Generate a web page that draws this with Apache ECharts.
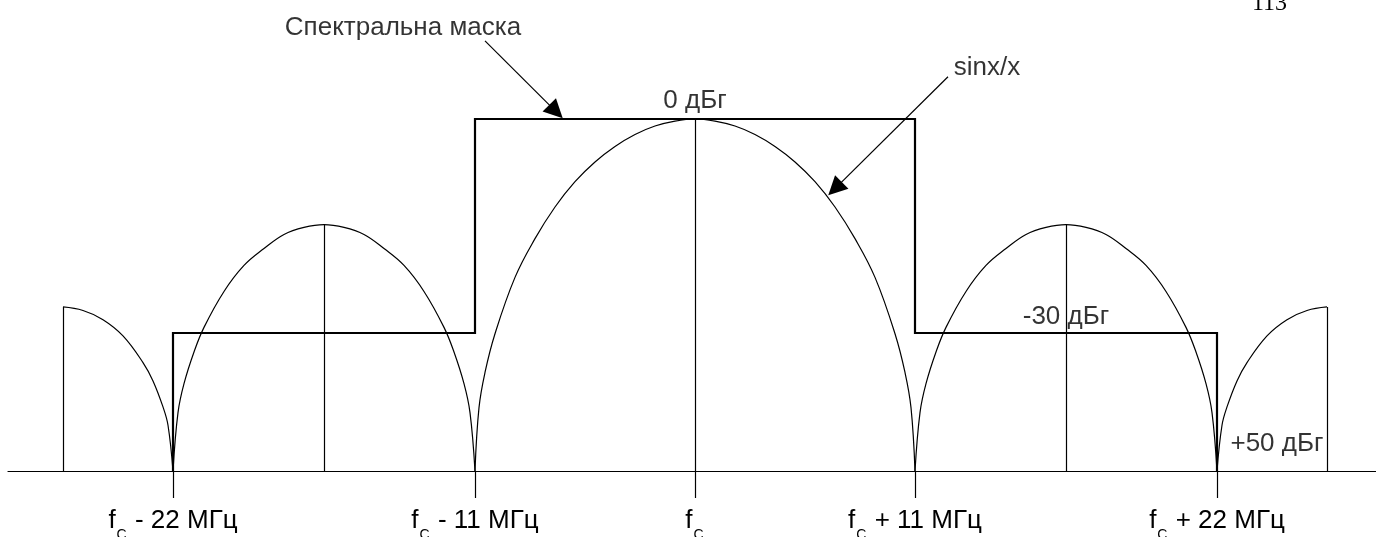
<!DOCTYPE html>
<html>
<head>
<meta charset="utf-8">
<script src="https://cdn.jsdelivr.net/npm/echarts@6/dist/echarts.min.js"></script>
<style>
  html, body { margin: 0; padding: 0; background: #fff; }
  #spectrum { width: 1376px; height: 537px; }
</style>
</head>
<body>
<div id="spectrum"></div>
<script>
// частота: умовні одиниці (f_C = 0), рівень: дБ відносно 0 дБг
var tickPos = [-26.1, -11, 0, 11, 26.1]
var tickText = [' - 22 МГц', ' - 11 МГц', '', ' + 11 МГц', ' + 22 МГц']

// спектральна маска
var maskX = [-26.1, -26.1, -11, -11, 11, 11, 26.1, 26.1]
var maskY = [-50, -30.4, -30.4, 0, 0, -30.4, -30.4, -50]

// головна пелюстка sinx/x
var mainX = [-11, -10.8, -10.5, -10, -9, -8, -7, -6, -5, -4, -3, -2, -1, 0, 1, 2, 3, 4, 5, 6, 7, 8, 9, 10, 10.5, 10.8, 11]
var mainY = [-50, -41, -36, -30.5, -22.5, -17, -12.5, -8.9, -6.1, -3.9, -2.2, -1.0, -0.3, 0, -0.3, -1.0, -2.2, -3.9, -6.1, -8.9, -12.5, -17, -22.5, -30.5, -36, -41, -50]

// бічні пелюстки
var sideLeftX = [-26.1, -25.85, -25.55, -25.05, -24.55, -23.55, -22.55, -21.55, -20.55, -19.55, -18.55, -17.55, -16.55, -15.55, -14.55, -13.55, -12.55, -12.05, -11.55, -11.25, -11]
var sideRightX = [11, 11.25, 11.55, 12.05, 12.55, 13.55, 14.55, 15.55, 16.55, 17.55, 18.55, 19.55, 20.55, 21.55, 22.55, 23.55, 24.55, 25.05, 25.55, 25.85, 26.1]
var sideY = [-50, -41.7, -37.6, -33.1, -29.6, -24.5, -20.8, -18.4, -16.4, -15.4, -15.0, -15.4, -16.4, -18.4, -20.8, -24.5, -29.6, -33.1, -37.6, -41.7, -50]

// крайні (обрізані) пелюстки
var edgeLeftX = [-31.6, -30.6, -29.6, -28.6, -27.6, -27.1, -26.6, -26.35, -26.1]
var edgeLeftY = [-26.7, -27.2, -28.5, -30.8, -34.6, -37.2, -40.9, -43.5, -50]
var edgeRightX = [26.1, 26.35, 26.6, 27.1, 27.6, 28.6, 29.6, 30.6, 31.6]
var edgeRightY = [-50, -43.5, -40.9, -37.2, -34.6, -30.8, -28.5, -27.2, -26.7]

// вертикальні лінії у вершинах пелюсток
var stemX = [-31.6, -18.55, 0, 18.55, 31.6]
var stemTop = [-26.7, -15.0, 0, -15.0, -26.7]

// підписи
var noteText = ['Спектральна маска', '0 дБг', 'sinx/x', '-30 дБг', '+50 дБг']
var noteX = [-14.6, 0, 14.6, 18.55, 29.1]
var noteY = [13.0, 2.6, 7.2, -28.1, -46.1]

// стрілки [початок, вістря]
var arrowMask = [[-10.5, 11.1], [-6.95, 1.05]]
var arrowSinc = [[12.65, 6.0], [7.0, -9.9]]

var FONT = 'Liberation Sans, Arial, sans-serif'

function zip(xs, ys) {
  return xs.map(function(x, i) { return [x, ys[i]] })
}

function lobe(xs, ys) {
  return {
    type: 'line',
    data: zip(xs, ys),
    smooth: 0.4,
    showSymbol: false,
    symbol: 'none',
    lineStyle: { color: '#000', width: 1.2 },
    silent: true
  }
}

var chart = echarts.init(document.getElementById('spectrum'))

var option = {
  animation: false,
  backgroundColor: '#fff',
  grid: { left: 8, right: 0, top: 0, bottom: 66, containLabel: false, outerBoundsMode: 'none' },
  xAxis: {
    type: 'value',
    min: -34.35,
    max: 34.05,
    splitLine: { show: false },
    axisLine: { show: true, onZero: false, lineStyle: { color: '#000', width: 1.2 } },
    axisTick: {
      show: true,
      customValues: tickPos,
      length: 27,
      lineStyle: { color: '#000', width: 1.2 }
    },
    axisLabel: {
      show: true,
      customValues: tickPos,
      margin: 44,
      hideOverlap: false,
      formatter: function(v) {
        var i = 0
        tickPos.forEach(function(p, k) { if (Math.abs(p - v) < 0.01) i = k })
        return '{f|f}{c|C}' + (tickText[i] ? '{t|' + tickText[i] + '}' : '')
      },
      rich: {
        f: { fontSize: 26, lineHeight: 26, padding: [0, 0, 14, 0], fontFamily: FONT, color: '#000' },
        t: { fontSize: 26, lineHeight: 26, padding: [0, 0, 14, 0], fontFamily: FONT, color: '#000' },
        c: { fontSize: 14, lineHeight: 14, padding: [14, 1, 0, 1], fontFamily: FONT, color: '#000' }
      }
    }
  },
  yAxis: {
    type: 'value',
    min: -50,
    max: 16.9,
    show: false
  },
  series: [
    lobe(mainX, mainY),
    lobe(sideLeftX, sideY),
    lobe(sideRightX, sideY),
    lobe(edgeLeftX, edgeLeftY),
    lobe(edgeRightX, edgeRightY),
    {
      type: 'lines',
      coordinateSystem: 'cartesian2d',
      silent: true,
      lineStyle: { color: '#000', width: 1.2, opacity: 1 },
      data: stemX.map(function(x, i) {
        return { coords: [[x, -50], [x, stemTop[i]]] }
      })
    },
    {
      type: 'line',
      data: zip(maskX, maskY),
      showSymbol: false,
      symbol: 'none',
      lineStyle: { color: '#000', width: 2.2, join: 'miter' },
      silent: true,
      z: 3
    },
    {
      type: 'lines',
      coordinateSystem: 'cartesian2d',
      silent: true,
      symbol: ['none', 'triangle'],
      symbolSize: [12, 19],
      lineStyle: { color: '#000', width: 1.2, opacity: 1 },
      itemStyle: { color: '#000' },
      data: [{ coords: arrowMask }, { coords: arrowSinc }],
      z: 4
    },
    {
      type: 'scatter',
      symbolSize: 1,
      itemStyle: { color: 'rgba(0,0,0,0)' },
      silent: true,
      label: {
        show: true,
        position: 'inside',
        formatter: '{b}',
        fontFamily: FONT,
        fontSize: 26,
        color: '#000',
        textBorderWidth: 0
      },
      data: noteText.map(function(t, i) {
        return { name: t, value: [noteX[i], noteY[i]] }
      }),
      z: 5
    }
  ],
  graphic: [
    {
      type: 'text',
      left: 1252,
      top: -8,
      style: { text: '113', font: '24px "Liberation Serif", serif', fill: '#000' }
    }
  ]
}

chart.setOption(option)
</script>
</body>
</html>
